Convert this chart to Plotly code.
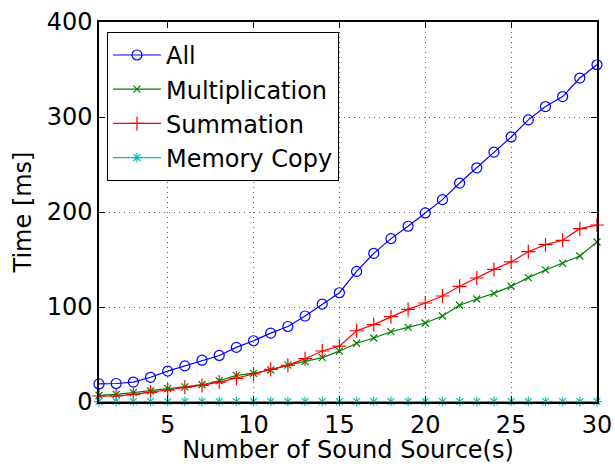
import plotly.graph_objects as go

sources = list(range(1, 31))

all_ms = [19, 19.5, 21, 26, 32.5, 38, 44, 49, 57.5, 64.5, 72.5, 79.5, 90.5, 103, 115,
          137.5, 156.5, 172, 185, 199, 213, 230.5, 246.5, 263, 279, 297, 311, 321.5, 341, 355]
mult_ms = [7, 8, 9.8, 11.6, 14, 16, 18.2, 22.4, 28, 30.2, 33.7, 38.9, 42.5, 46.7, 53.5,
           61.8, 67.4, 74, 78.6, 83.2, 90.5, 101.8, 108.4, 114.4, 121.8, 130.9, 139, 146, 153.7, 168.4]
sum_ms = [6.3, 6.3, 8, 10.2, 12.6, 15.4, 17.5, 21, 24.9, 29.5, 34.4, 38.6, 45.6, 53.7, 58.8,
          75, 81.4, 89.8, 97.5, 104.2, 111.6, 121.8, 130.5, 139.6, 147.4, 158.2, 165.6, 170.2, 182.5, 186.3]
copy_ms = [0.5] * 30

x_ticks = [5, 10, 15, 20, 25, 30]
y_ticks = [0, 100, 200, 300, 400]

FONT = "DejaVu Sans, Liberation Sans, Arial, sans-serif"
FS = 24
LFS = 24

series = [
    ("All", all_ms, "#0000FF", "circle-open", 10),
    ("Multiplication", mult_ms, "#008000", "x-thin-open", 7),
    ("Summation", sum_ms, "#FF0000", "cross-thin-open", 10),
    ("Memory Copy", copy_ms, "#00BFBF", "asterisk-open", 8),
]

fig = go.Figure()
for i, (name, vals, color, sym, size) in enumerate(series):
    fig.add_trace(go.Scatter(
        x=sources, y=vals, name=name, mode="lines+markers",
        line=dict(color=color, width=1.2),
        marker=dict(symbol=sym, size=size, color=color, line=dict(color=color, width=1.2)),
        cliponaxis=False,
    ))

axis_common = dict(
    showline=True, linecolor="black", linewidth=1.5, mirror="ticks",
    ticks="inside", ticklen=6, tickcolor="black", tickwidth=1,
    showgrid=True, gridcolor="rgba(0,0,0,0.6)", griddash="1px,4px", gridwidth=1,
    zeroline=False, tickfont=dict(size=FS, color="black", family=FONT),
    automargin=False, ticklabeloverflow="allow",
)

fig.update_xaxes(range=[1, 30], tickvals=x_ticks, **axis_common,
                 title=dict(text="Number of Sound Source(s)", font=dict(size=FS, color="black", family=FONT),
                            standoff=0))
fig.update_yaxes(range=[0, 400], tickvals=y_ticks, **axis_common,
                 title=dict(text="Time [ms]", font=dict(size=FS, color="black", family=FONT),
                            standoff=8))

fig.update_layout(
    width=615, height=464,
    margin=dict(l=99, r=18, t=22, b=62, autoexpand=False),
    plot_bgcolor="white", paper_bgcolor="white",
    font=dict(family=FONT, color="black"),
    legend=dict(x=0.016, y=0.974, xanchor="left", yanchor="top",
                bgcolor="white", bordercolor="black", borderwidth=1,
                font=dict(size=LFS, color="black", family=FONT),
                tracegroupgap=0, itemwidth=48),
)

# remove the page's default body margin so the figure fills the window exactly
fig.write_html("out.html",
               config={"displayModeBar": False},
               post_script="document.body.style.margin='0';document.body.style.overflow='hidden';")
